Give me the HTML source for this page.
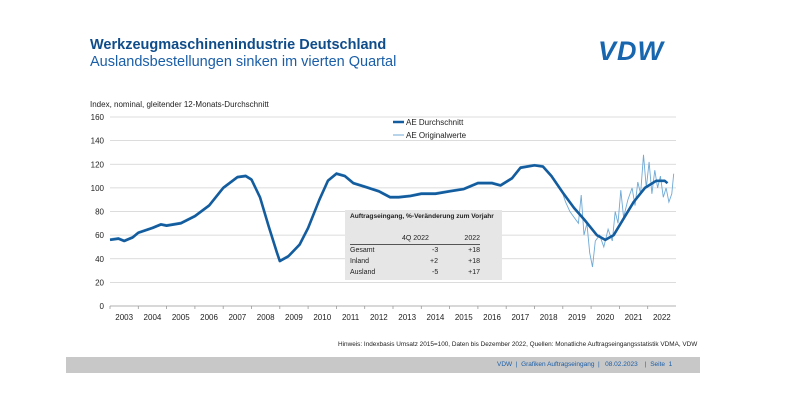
<!DOCTYPE html>
<html><head><meta charset="utf-8"><style>
body{margin:0;background:#fff;font-family:"Liberation Sans",Arial,sans-serif}
#w{position:relative;width:790px;height:400px;overflow:hidden}
.t{position:absolute;white-space:nowrap}
</style></head><body><div id="w">
<div class="t" style="left:90px;top:37px;font-size:14.5px;font-weight:bold;color:#0f4c8a">Werkzeugmaschinenindustrie Deutschland</div>
<div class="t" style="left:90px;top:54px;font-size:14.5px;color:#1a5ea8">Auslandsbestellungen sinken im vierten Quartal</div>
<div class="t" style="left:598px;top:36px;font-size:27px;font-weight:bold;font-style:italic;color:#1766ae;letter-spacing:1px">VDW</div>
<div class="t" style="left:90px;top:100px;font-size:8px;color:#222">Index, nominal, gleitender 12-Monats-Durchschnitt</div>
<svg id="s" width="790" height="400" style="position:absolute;left:0;top:0" font-family="Liberation Sans,Arial,sans-serif"></svg>
<div class="t" style="left:345px;top:210px;width:157px;height:70px;background:#e6e6e6"></div>
<div class="t" style="left:350px;top:213px;font-size:6.6px;font-weight:bold;color:#222">Auftragseingang, %-Veränderung zum Vorjahr</div>
<div class="t" style="left:350px;top:233px;width:130px;font-size:7px;color:#222;line-height:11px">
<div style="position:relative;height:11px;border-bottom:0.5px solid #555"><span style="position:absolute;left:52px">4Q 2022</span><span style="position:absolute;right:0">2022</span></div>
<div style="position:relative;height:11px"><span>Gesamt</span><span style="position:absolute;left:82px">-3</span><span style="position:absolute;right:0">+18</span></div>
<div style="position:relative;height:11px"><span>Inland</span><span style="position:absolute;left:80px">+2</span><span style="position:absolute;right:0">+18</span></div>
<div style="position:relative;height:11px"><span>Ausland</span><span style="position:absolute;left:82px">-5</span><span style="position:absolute;right:0">+17</span></div>
</div>
<div class="t" style="left:338px;top:341px;font-size:6.4px;color:#222">Hinweis: Indexbasis Umsatz 2015=100, Daten bis Dezember 2022, Quellen: Monatliche Auftragseingangsstatistik VDMA, VDW</div>
<div class="t" style="left:66px;top:357px;width:634px;height:16px;background:#c8c8c8"></div>
<div class="t" style="left:497px;top:361px;font-size:6.5px;color:#1a5ea8">VDW &nbsp;| &nbsp;Grafiken Auftragseingang &nbsp;| &nbsp;&nbsp;08.02.2023 &nbsp;&nbsp;&nbsp;| &nbsp;Seite &nbsp;1</div>
</div>
<script>
const s=document.getElementById('s');let h='';
const X=t=>110+(t-2003)*28.3,Y=v=>306-v*1.18125;
for(let i=0;i<=8;i++){let y=Y(i*20);h+=`<line x1="110" x2="676" y1="${y}" y2="${y}" stroke="${i?'#d0d0d0':'#999'}" stroke-width="0.8"/><text x="104" y="${y+3}" font-size="8" text-anchor="end" fill="#222">${i*20}</text>`;}
for(let yr=2003;yr<=2022;yr++){h+=`<line x1="${X(yr)}" x2="${X(yr)}" y1="306" y2="309" stroke="#999" stroke-width="0.8"/><text x="${X(yr+0.5)}" y="320" font-size="8" text-anchor="middle" fill="#222">${yr}</text>`;}
const A=[[2003,56],[2003.3,57],[2003.5,55],[2003.8,58],[2004,62],[2004.5,66],[2004.8,69],[2005,68],[2005.5,70],[2006,76],[2006.5,85],[2007,100],[2007.5,109],[2007.8,110],[2008,107],[2008.3,92],[2008.6,68],[2008.9,45],[2009,38],[2009.3,42],[2009.7,52],[2010,66],[2010.4,90],[2010.7,106],[2011,112],[2011.3,110],[2011.6,104],[2012,101],[2012.5,97],[2012.9,92],[2013.2,92],[2013.6,93],[2014,95],[2014.5,95],[2015,97],[2015.5,99],[2016,104],[2016.5,104],[2016.8,102],[2017.2,108],[2017.5,117],[2018,119],[2018.3,118],[2018.6,110],[2019,96],[2019.4,83],[2019.8,72],[2020.2,60],[2020.5,56],[2020.8,60],[2021.1,72],[2021.5,88],[2021.9,100],[2022.3,106],[2022.6,106],[2022.7,104]];
const O=A.filter(p=>p[0]<2019).map(p=>[p[0],p[1]+1]).concat([[2019,95],[2019.1,88],[2019.25,80],[2019.4,75],[2019.55,70],[2019.65,94],[2019.75,60],[2019.85,70],[2019.95,45],[2020.05,33],[2020.15,55],[2020.3,60],[2020.45,50],[2020.6,65],[2020.75,55],[2020.85,80],[2020.95,70],[2021.05,98],[2021.15,75],[2021.3,90],[2021.45,100],[2021.55,85],[2021.65,105],[2021.75,95],[2021.85,128],[2021.95,100],[2022.05,122],[2022.15,95],[2022.25,115],[2022.35,100],[2022.45,110],[2022.55,92],[2022.65,100],[2022.75,88],[2022.85,95],[2022.92,112]]);
const P=a=>a.map((p,i)=>(i?'L':'M')+X(p[0]).toFixed(1)+' '+Y(p[1]).toFixed(1)).join('');
h+=`<path d="${P(O)}" fill="none" stroke="#6fa9d6" stroke-width="0.9"/>`;
h+=`<path d="${P(A)}" fill="none" stroke="#135c9e" stroke-width="2.6" stroke-linejoin="round"/>`;
h+=`<line x1="393" x2="404" y1="122" y2="122" stroke="#135c9e" stroke-width="2.5"/><text x="406" y="125" font-size="8" fill="#222">AE Durchschnitt</text>`;
h+=`<line x1="393" x2="404" y1="135" y2="135" stroke="#6fa9d6" stroke-width="1"/><text x="406" y="138" font-size="8" fill="#222">AE Originalwerte</text>`;
s.innerHTML=h;
</script>
</body></html>
